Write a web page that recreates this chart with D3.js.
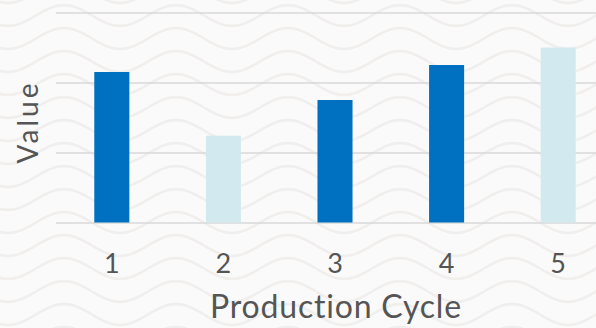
<!DOCTYPE html>
<html>
<head>
<meta charset="utf-8">
<script src="https://cdn.jsdelivr.net/npm/d3@7"></script>
<style>
  html, body { margin: 0; padding: 0; background: #fbfafa; }
  svg { display: block; }
  text { font-family: Lato, "Open Sans", sans-serif; fill: #555; }
</style>
</head>
<body>
<svg id="chart" width="596" height="328"></svg>
<script>
// Production output per cycle
const cycles = ["1", "2", "3", "4", "5"];
const values = [21.5, 12.4, 17.5, 22.5, 25];
const barColors = ["#0070c0", "#d3e9f0", "#0070c0", "#0070c0", "#d3e9f0"];
const yTicks = [0, 10, 20, 30];

const W = 596, H = 328;
const svg = d3.select("#chart");

// Wavy background texture
const defs = svg.append("defs");
const pat = defs.append("pattern")
  .attr("id", "waves")
  .attr("patternUnits", "userSpaceOnUse")
  .attr("width", 112).attr("height", 23)
  .attr("patternTransform", "translate(-20,4)");
const waveLine = d3.line().curve(d3.curveBasis);
const wavePts = d3.range(0, 113, 4).map(x => [x, 11.5 + 10.5 * Math.sin(x / 112 * 2 * Math.PI)]);
[-23, 0, 23].forEach(dy => {
  pat.append("path")
    .attr("d", waveLine(wavePts))
    .attr("transform", `translate(0,${dy})`)
    .attr("fill", "none")
    .attr("stroke", "#f0efee")
    .attr("stroke-width", 2.6);
});
svg.append("rect").attr("width", W).attr("height", H).attr("fill", "#fbfafa");
svg.append("rect").attr("width", W).attr("height", H).attr("fill", "url(#waves)");

const x = d3.scaleBand()
  .domain(cycles)
  .range([56, 614])
  .paddingInner(0.686)
  .paddingOuter(0.343);

const y = d3.scaleLinear()
  .domain([0, 30])
  .range([222.5, 12.5]);

// Horizontal gridlines
const yAxis = d3.axisLeft(y).tickValues(yTicks).tickSize(-(W - 56)).tickFormat("");
const gy = svg.append("g").attr("transform", "translate(56,0)").call(yAxis);
gy.select(".domain").remove();
gy.selectAll(".tick line").attr("stroke", "#d9d9d9").attr("stroke-width", 1.6);

// Bars
svg.append("g").selectAll("rect")
  .data(values)
  .join("rect")
  .attr("x", (d, i) => x(cycles[i]))
  .attr("width", x.bandwidth())
  .attr("y", d => y(d))
  .attr("height", d => y(0) - y(d))
  .attr("fill", (d, i) => barColors[i]);

// Category labels
const xAxis = d3.axisBottom(x).tickSize(0).tickPadding(0);
const gx = svg.append("g").attr("transform", "translate(0,273)").call(xAxis);
gx.select(".domain").remove();
gx.selectAll(".tick text")
  .attr("y", 0).attr("dy", 0)
  .style("font-size", "27px")
  .style("font-family", "Lato, sans-serif")
  .attr("fill", "#555");

// Axis titles
svg.append("text")
  .attr("x", 336).attr("y", 318)
  .attr("text-anchor", "middle")
  .style("font-size", "32px")
  .style("letter-spacing", "0.8px")
  .text("Production Cycle");

svg.append("text")
  .attr("transform", "translate(38,122) rotate(-90)")
  .attr("text-anchor", "middle")
  .style("font-size", "28px")
  .style("letter-spacing", "3px")
  .text("Value");
</script>
</body>
</html>
